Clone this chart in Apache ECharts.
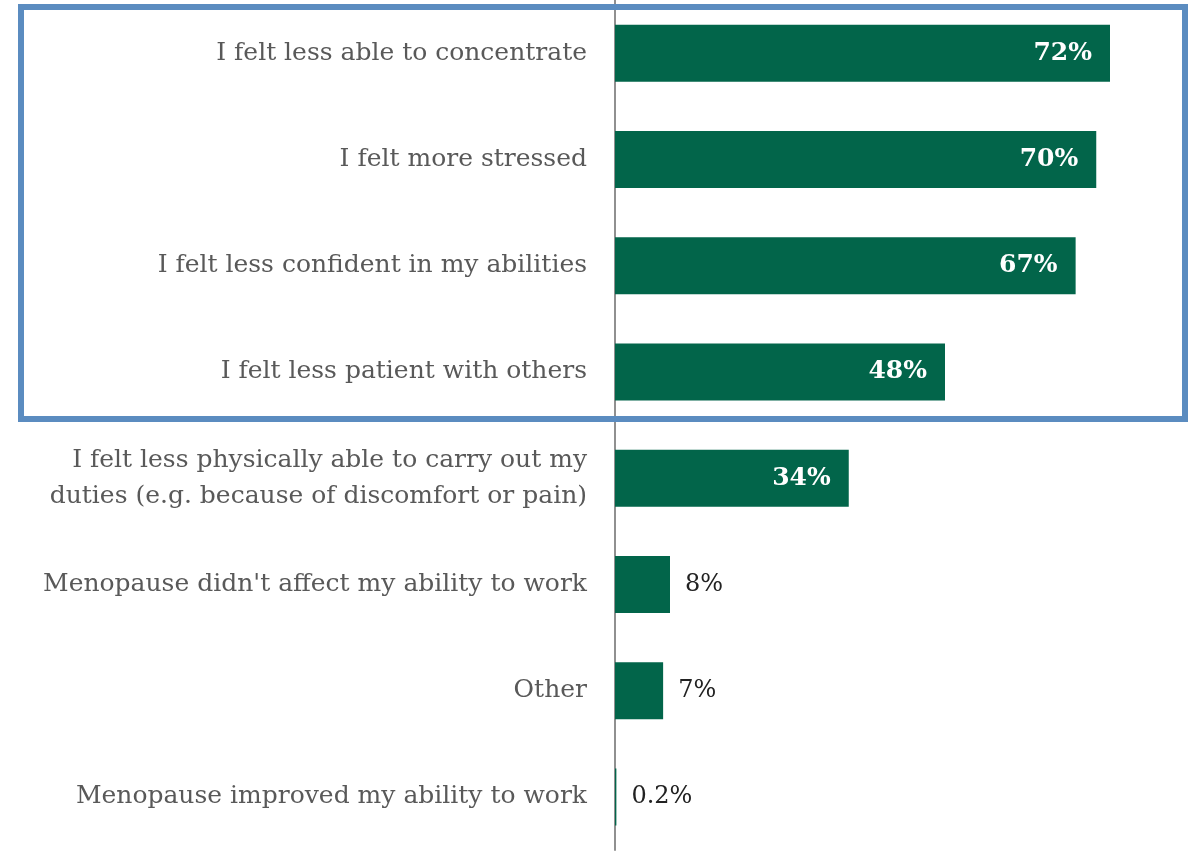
<!DOCTYPE html>
<html>
<head>
<meta charset="utf-8">
<script src="https://cdn.jsdelivr.net/npm/echarts@6/dist/echarts.min.js"></script>
<style>
    html, body { margin: 0; padding: 0; background: #fff; }
    #main { width: 1189px; height: 851px; }
</style>
</head>
<body>
<div id="main"></div>
<script>
var categories = [
    'I felt less able to concentrate',
    'I felt more stressed',
    'I felt less confident in my abilities',
    'I felt less patient with others',
    'I felt less physically able to carry out my\nduties (e.g. because of discomfort or pain)',
    "Menopause didn't affect my ability to work",
    'Other',
    'Menopause improved my ability to work'
];
var values = [72, 70, 67, 48, 34, 8, 7, 0.2];
// bars wide enough to hold the label inside
var insideLimit = 20;

var font = '"DejaVu Serif", "Liberation Serif", serif';

function barData() {
    return values.map(function (v) {
        var inside = v >= insideLimit;
        return {
            value: v,
            label: inside ? {
                position: 'insideRight',
                color: '#fff',
                fontWeight: 'bold',
                fontSize: 25,
                distance: 18
            } : {
                position: 'right',
                color: '#222',
                fontWeight: 'normal',
                fontSize: 24,
                distance: 15
            }
        };
    });
}

var myChart = echarts.init(document.getElementById('main'));
var option = {
    backgroundColor: '#fff',
    animation: false,
    grid: {
        left: 615,
        right: 24,
        top: -3,
        bottom: 1
    },
    xAxis: {
        type: 'value',
        min: 0,
        max: 80,
        show: false
    },
    yAxis: {
        type: 'category',
        inverse: true,
        data: categories,
        axisLine: { show: true, lineStyle: { color: '#909090', width: 2 } },
        axisTick: { show: false },
        axisLabel: {
            color: '#595959',
            fontFamily: font,
            fontSize: 25,
            lineHeight: 36,
            margin: 28,
            align: 'right'
        }
    },
    series: [
        {
            type: 'bar',
            barWidth: 57,
            data: barData(),
            itemStyle: { color: '#02654a' },
            label: {
                show: true,
                fontFamily: font,
                formatter: function (p) { return p.value + '%'; }
            }
        }
    ],
    graphic: [
        {
            type: 'rect',
            shape: { x: 21, y: 7, width: 1164, height: 412 },
            style: { fill: 'none', stroke: '#5b8cc0', lineWidth: 6 },
            z: 100
        }
    ]
};

myChart.setOption(option);
</script>
</body>
</html>
